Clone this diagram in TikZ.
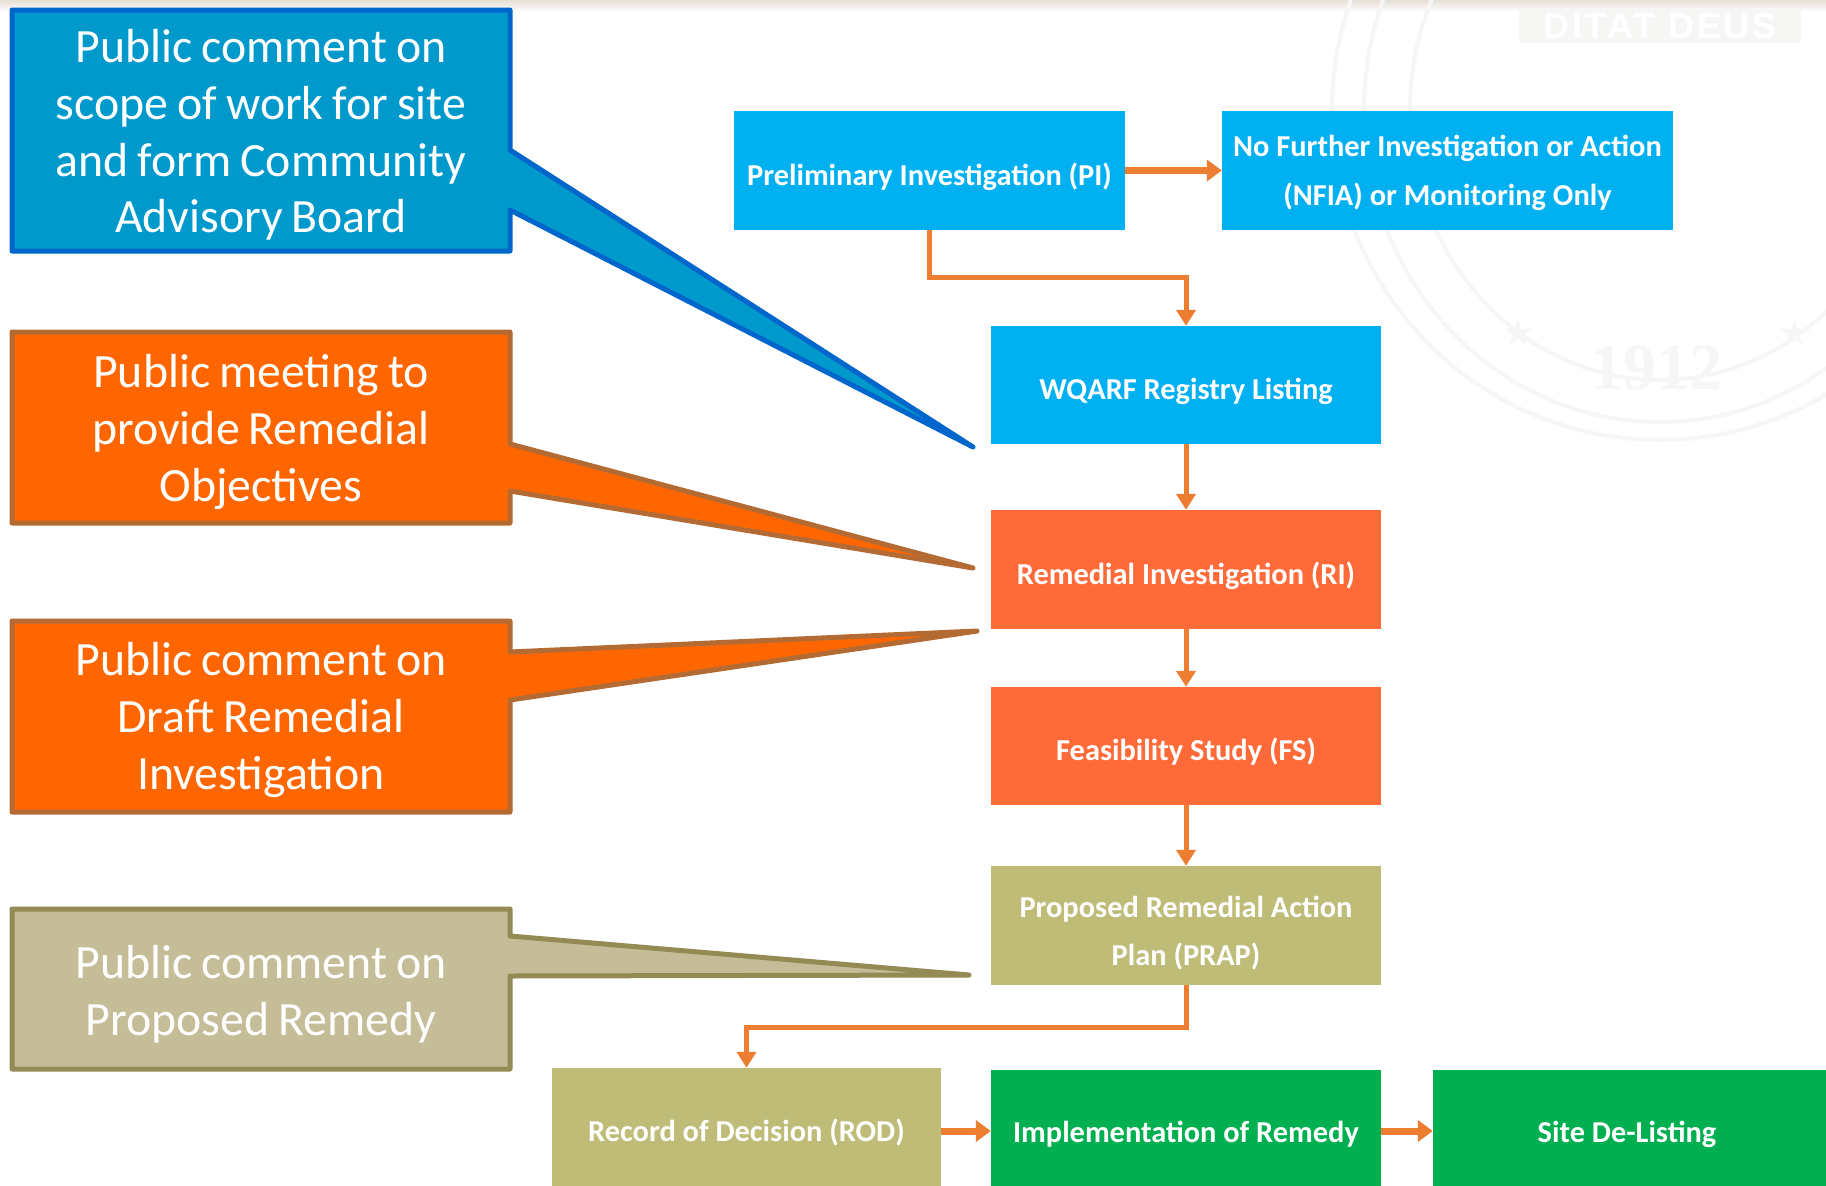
\documentclass[tikz,border=0pt]{standalone}
\usepackage{fontspec}
\setmainfont{Carlito}
\newfontfamily\symfont{DejaVu Sans}
\newfontfamily\sealserif{Liberation Serif}
\newfontfamily\mottofont[LetterSpace=8]{Liberation Sans}
\usetikzlibrary{arrows.meta,calc,positioning}
\definecolor{cbluef}{HTML}{0099CC}\definecolor{cblued}{HTML}{0066CC}
\definecolor{corgf}{HTML}{FF6600}\definecolor{corgd}{HTML}{B36B33}
\definecolor{ckhaf}{HTML}{C4BD97}\definecolor{ckhad}{HTML}{948A54}
\definecolor{bblue}{HTML}{00B0F0}\definecolor{borg}{HTML}{FF6A39}
\definecolor{bkha}{HTML}{BFBC78}\definecolor{bgrn}{HTML}{00B050}
\definecolor{arr}{HTML}{ED7D31}\definecolor{seal}{HTML}{F6F6F5}
\definecolor{topband}{HTML}{E6DFD5}
\tikzset{
 callpoly/.style={line width=5pt,line join=round},
 calltext/.style={text=white,font=\fontsize{47.8}{56.6}\selectfont,align=center,text width=490pt,inner sep=0pt,execute at begin node={\spaceskip=9pt\relax}},
 flowtext/.style={text=white,align=center,font=\fontsize{30.4}{48.5}\selectfont\bfseries,inner sep=0pt},
 conn/.style={draw=arr,line width=5pt,-{Triangle[length=16pt,width=19pt]}},
 connh/.style={draw=arr,line width=7pt,-{Triangle[length=15pt,width=21pt]}},
 sealline/.style={draw=seal,line width=4pt},
 sealtext/.style={text=seal,inner sep=0pt}
}
% \flowbox{name}{x0}{y0}{x1}{y1}{fill}{text}{text shift}
\newcommand{\flowbox}[8]{%
  \path[fill=#6] (#2,#3) rectangle (#4,#5);
  \coordinate (#1nw) at (#2,#3);
  \coordinate (#1se) at (#4,#5);
  \node[inner sep=0pt,minimum width=#4pt-#2pt,minimum height=#5pt-#3pt] (#1) at ($(#1nw)!0.5!(#1se)$) {};
  \node[flowtext] (#1t) at ($(#1)+(0,#8)$) {#7};
}
\begin{document}
\begin{tikzpicture}[x=1pt,y=-1pt]
\useasboundingbox (0,0) rectangle (1826,1186);
\clip (0,0) rectangle (1826,1186);
\fill[white] (0,0) rectangle (1826,1186);
\shade[top color=topband,bottom color=white] (0,0) rectangle (1826,12);
% faint seal watermark
\draw[sealline] (1660,110) ellipse (328 and 330);
\draw[sealline] (1660,110) ellipse (296 and 312);
\draw[sealline] (1660,110) ellipse (250 and 270);
\fill[seal] (1519,8) rectangle (1801,43);
\node[sealtext,text=white,font=\mottofont\fontsize{36}{36}\selectfont\bfseries] (sealmotto) at (1660,26) {DITAT DEUS};
\node[sealtext,font=\sealserif\fontsize{66}{66}\selectfont\bfseries] (sealyear) at (1656,368) {1912};
\node[sealtext,font=\symfont\fontsize{36}{36}\selectfont] (starl) at (1519,333) {★};
\node[sealtext,font=\symfont\fontsize{36}{36}\selectfont] (starr) at (1795,333) {★};
% flow boxes
\flowbox{pi}{734}{111}{1125}{230}{bblue}{Preliminary Investigation (PI)}{6}
\flowbox{nfia}{1222}{111}{1673}{230}{bblue}{No Further Investigation or Action\\(NFIA) or Monitoring Only}{2.5}
\flowbox{wq}{991}{326}{1381}{444}{bblue}{WQARF Registry Listing}{6}
\flowbox{ri}{991}{510}{1381}{629}{borg}{Remedial Investigation (RI)}{6}
\flowbox{fs}{991}{687}{1381}{805}{borg}{Feasibility Study (FS)}{6}
\flowbox{prap}{991}{866}{1381}{985}{bkha}{Proposed Remedial Action\\Plan (PRAP)}{7.5}
\flowbox{rod}{552}{1068}{941}{1194}{bkha}{Record of Decision (ROD)}{2}
\flowbox{impl}{991}{1070}{1381}{1192}{bgrn}{Implementation of Remedy}{3.5}
\flowbox{site}{1433}{1070}{1830}{1192}{bgrn}{Site De-Listing\hspace*{9pt}}{3.5}
% connectors
\draw[connh] (pi.east) -- (nfia.west);
\draw[conn] (pi.south) -- ++(0,47) -| (wq.north);
\draw[conn] (wq.south) -- (ri.north);
\draw[conn] (ri.south) -- (fs.north);
\draw[conn] (fs.south) -- (prap.north);
\draw[conn] (prap.south) -- ++(0,42) -| (rod.north);
\draw[connh] (rod.east) -- (impl.west);
\draw[connh] (impl.east) -- (site.west);
% callouts
\coordinate (c1tip) at (973,447);
\draw[callpoly,draw=cblued,fill=cbluef] (12,10) -- (510,10) -- (510,150) -- (c1tip) -- (510,210) -- (510,251) -- (12,251) -- cycle;
\node[calltext] (c1) at (261,135) {Public comment on\\scope of work for site\\and form Community\\Advisory Board};
\coordinate (c2tip) at (973,568);
\draw[callpoly,draw=corgd,fill=corgf] (12,332) -- (510,332) -- (510,444) -- (c2tip) -- (510,491) -- (510,523) -- (12,523) -- cycle;
\node[calltext] (c2) at (261,432) {Public meeting to\\provide Remedial\\Objectives};
\coordinate (c3tip) at (977,631);
\draw[callpoly,draw=corgd,fill=corgf] (12,621) -- (510,621) -- (510,652) -- (c3tip) -- (510,700) -- (510,812) -- (12,812) -- cycle;
\node[calltext] (c3) at (261,720) {Public comment on\\Draft Remedial\\Investigation};
\coordinate (c4tip) at (969,975);
\draw[callpoly,draw=ckhad,fill=ckhaf] (12,909) -- (510,909) -- (510,936) -- (c4tip) -- (510,976) -- (510,1069) -- (12,1069) -- cycle;
\node[calltext] (c4) at (261,994) {Public comment on\\Proposed Remedy};
\end{tikzpicture}
\end{document}
